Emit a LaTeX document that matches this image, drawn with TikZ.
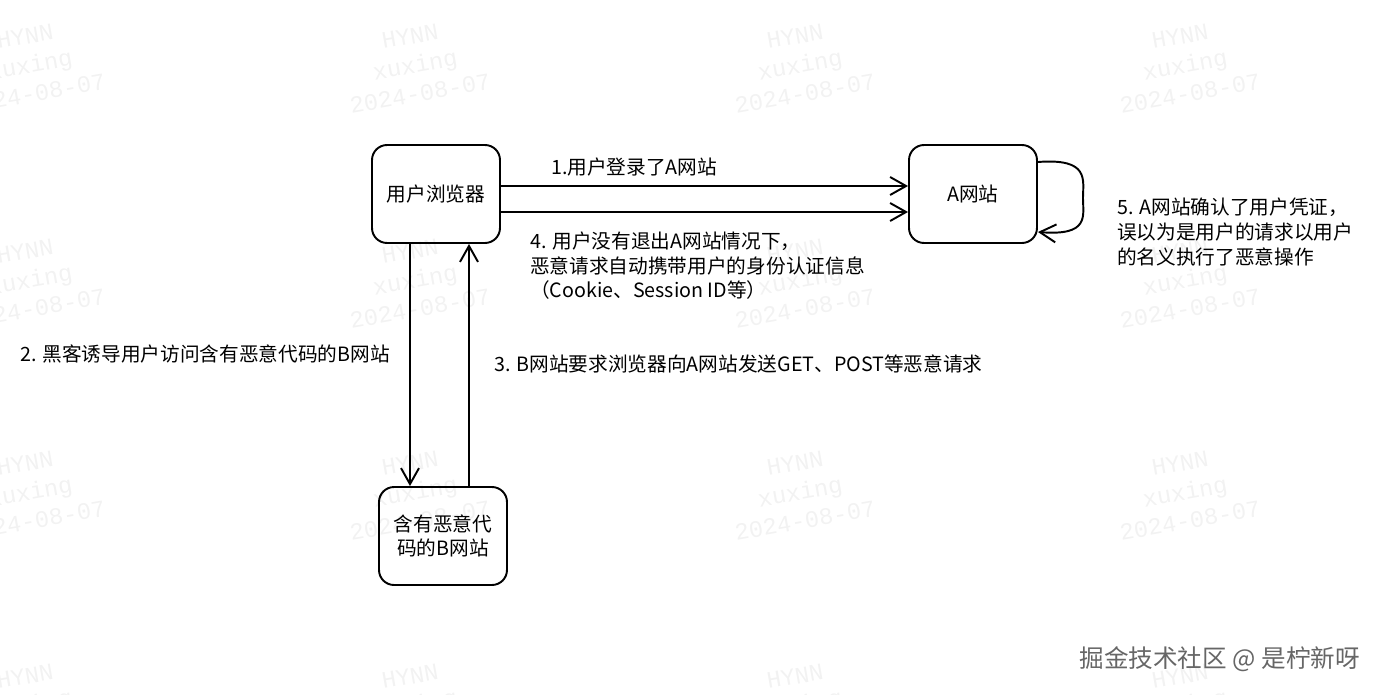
\documentclass[tikz,border=0pt]{standalone}
\usepackage{fontspec}
\setmainfont{Noto Sans CJK SC}
\newfontfamily\markfont{Liberation Mono}
\usetikzlibrary{arrows.meta}

\begin{document}
\begin{tikzpicture}[x=0.02cm,y=-0.02cm,
    box/.style={draw,line width=1.1pt,rounded corners=0.3cm,minimum width=2.56cm,minimum height=1.96cm,align=center,font=\fontsize{11.2}{14}\selectfont},
    lbl/.style={anchor=west,align=left,font=\fontsize{11.2}{14}\selectfont},
    conn/.style={line width=1.1pt,-{Straight Barb[length=0.32cm,width=0.36cm,line width=1.1pt]}},
    wmark/.style={text=black!5,rotate=10,align=center,font=\markfont\fontsize{13.5}{16.5}\selectfont}]
  \useasboundingbox (0,0) rectangle (1384,694);
  % watermarks
  \foreach \x in {30,415,800,1185}
    \foreach \y in {65,280,492,705}
      \node[wmark] (wm-\x-\y) at (\x,\y) {HYNN\\xuxing\\2024-08-07};
  \node[box] (browser) at (436,194) {用户浏览器};
  \node[box] (siteA)   at (973,194) {A网站};
  \node[box] (siteB)   at (443,536) {含有恶意代\\码的B网站};
  \coordinate (loopout) at (siteA.east |- 0,162);
  \coordinate (loopin)  at (siteA.east |- 0,232);
  \draw[conn] (browser.east |- 0,186) -- (siteA.west |- 0,186);
  \draw[conn] (browser.east |- 0,212) -- (siteA.west |- 0,212);
  \draw[conn] (browser.south -| 410,0) -- (siteB.north -| 410,0);
  \draw[conn] (siteB.north -| 469,0) -- (browser.south -| 469,0);
  \draw[conn] (loopout) .. controls (1090,158) and (1083,180) .. (1083,198)
    .. controls (1083,216) and (1090,236) .. (loopin);
  \node[lbl] (t1) at (545,167) {1.用户登录了A网站};
  \node[lbl] (t4) at (524,266) {4. 用户没有退出A网站情况下，\\恶意请求自动携带用户的身份认证信息\\（Cookie、Session ID等）};
  \node[lbl] (t2) at (14,354) {2. 黑客诱导用户访问含有恶意代码的B网站};
  \node[lbl] (t3) at (488,364) {3. B网站要求浏览器向A网站发送GET、POST等恶意请求};
  \node[lbl] (t5) at (1111,232) {5. A网站确认了用户凭证，\\误以为是用户的请求以用户\\的名义执行了恶意操作};
  \node[anchor=east,text=black!60,font=\fontsize{14}{16}\selectfont] (credit) at (1366,659) {掘金技术社区 @ 是柠新呀};
\end{tikzpicture}
\end{document}
